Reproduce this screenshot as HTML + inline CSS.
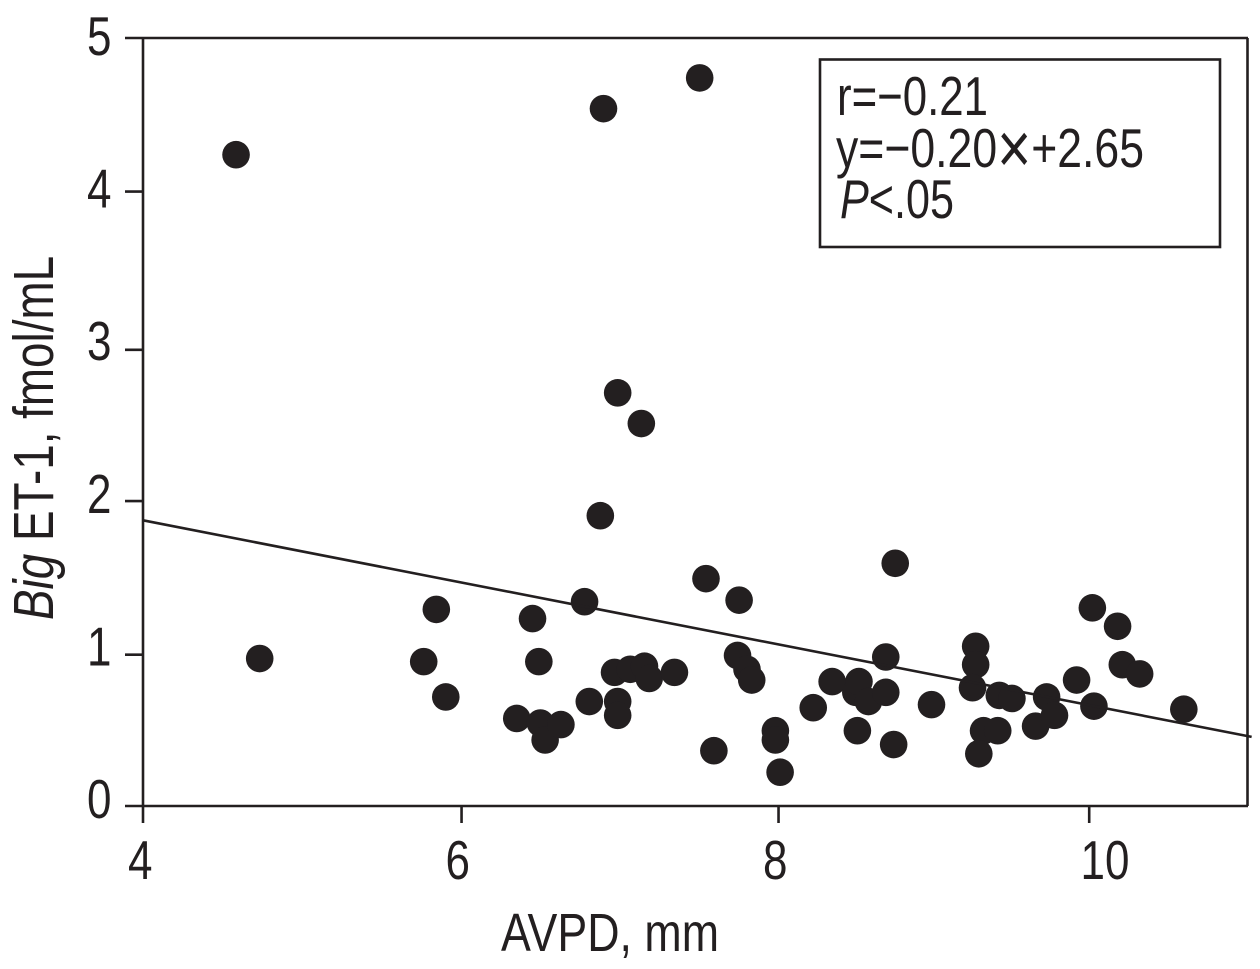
<!DOCTYPE html>
<html lang="en">
<head>
<meta charset="utf-8">
<title>Big ET-1 versus AVPD scatter plot</title>
<style>
  html, body { margin: 0; padding: 0; background: #fff; width: 1260px; height: 969px; overflow: hidden; }
  svg { display: block; }
  text { font-family: "Liberation Sans", Arial, sans-serif; fill: #231f20; font-size: 55px; }
</style>
</head>
<body>
<svg id="chart" xmlns="http://www.w3.org/2000/svg" width="1260" height="969" viewBox="0 0 1260 969">
  <g id="axes"></g>
  <g id="points"></g>
  <line id="trend" stroke="#231f20" stroke-width="2.6"></line>
  <g id="labels"></g>

  <text x="501" y="951" font-size="54" style="font-size:54px" textLength="218" lengthAdjust="spacingAndGlyphs">AVPD, mm</text>
  <text style="font-size:57px" transform="translate(53,620) rotate(-90) scale(0.804,1)" x="0" y="0"><tspan font-style="italic">Big</tspan> ET-1, fmol/mL</text>

  <g>
    <rect x="820" y="59.5" width="400" height="187.5" fill="none" stroke="#231f20" stroke-width="2.6"></rect>
    <text x="837" y="115" textLength="151" lengthAdjust="spacingAndGlyphs">r=−0.21</text>
    <text x="836" y="167" textLength="308" lengthAdjust="spacingAndGlyphs">y=−0.20<tspan style="font-size:72px" dy="6">×</tspan><tspan dy="-6">+2.65</tspan></text>
    <text x="840" y="218" textLength="114" lengthAdjust="spacingAndGlyphs"><tspan font-style="italic">P</tspan>&lt;.05</text>
  </g>
</svg>
<script>
// Data
const pointX = [4.59,4.74,6.92,7.53,7.01,7.16,6.90,7.57,7.78,8.77,5.86,5.78,5.92,6.47,6.51,6.80,6.37,6.52,6.55,6.65,6.83,6.99,7.01,7.01,7.09,7.18,7.21,7.37,7.62,7.77,7.83,7.86,8.01,8.01,8.04,8.25,8.37,8.52,8.54,8.53,8.60,8.71,8.71,8.76,9.00,9.28,9.28,9.26,9.33,9.30,9.42,9.43,9.51,9.66,9.73,9.78,9.92,10.02,10.03,10.18,10.21,10.32,10.60];
const pointY = [4.24,0.96,4.54,4.74,2.69,2.49,1.89,1.48,1.34,1.58,1.28,0.94,0.71,1.22,0.94,1.33,0.57,0.54,0.43,0.53,0.68,0.87,0.68,0.59,0.89,0.91,0.83,0.87,0.36,0.98,0.89,0.82,0.49,0.43,0.22,0.64,0.81,0.74,0.81,0.49,0.68,0.74,0.97,0.40,0.66,1.04,0.92,0.77,0.49,0.34,0.49,0.72,0.70,0.52,0.71,0.59,0.82,1.29,0.65,1.17,0.92,0.86,0.63];
const trendX = [4, 11.03];
const trendY = [1.86, 0.45];
const xTickValues = [4, 6.02, 8.03, 10];
const xTickLabels = ["4", "6", "8", "10"];
const yTickValues = [0, 0.985, 1.985, 2.97, 4, 5];
const yTickLabels = ["0", "1", "2", "3", "4", "5"];

// Axis functions
function xScale(v) { return 143 + (v - 4) * 157.7; }
function yScale(v) { return 806 - v * 153.6; }
function xLabelStart(i) { return 128 + i * 317.5; }
function yLabelBase(i) { return 818 - i * 152.6; }

const NS = 'http://www.w3.org/2000/svg';
const axes = document.getElementById('axes');
const points = document.getElementById('points');
const labels = document.getElementById('labels');
const INK = '#231f20';

function makeLine(x1, y1, x2, y2) {
  const l = document.createElementNS(NS, 'line');
  l.setAttribute('x1', x1);
  l.setAttribute('y1', y1);
  l.setAttribute('x2', x2);
  l.setAttribute('y2', y2);
  l.setAttribute('stroke', INK);
  l.setAttribute('stroke-width', '2.6');
  axes.appendChild(l);
  return l;
}

const frameLeft = makeLine(143, 38, 143, 806);


const frameBottom = makeLine(143, 806, 1248, 806);


const frameTop = makeLine(143, 38, 1248, 38);


const frameRight = makeLine(1247.5, 38, 1247.5, 806);



xTickValues.forEach(function (v, i) {
  const t = makeLine(xScale(v), 806, xScale(v), 823);
  
  
  const lab = document.createElementNS(NS, 'text');
  
  
  lab.setAttribute('transform', 'translate(' + xLabelStart(i) + ',879) scale(0.8,1)');
  lab.textContent = xTickLabels[i];
  labels.appendChild(lab);
});

yTickValues.forEach(function (v, i) {
  const t = makeLine(125, yScale(v), 143, yScale(v));
  
  
  const lab = document.createElementNS(NS, 'text');
  
  
  lab.setAttribute('transform', 'translate(87,' + yLabelBase(i) + ') scale(0.8,1)');
  lab.textContent = yTickLabels[i];
  labels.appendChild(lab);
});

pointX.forEach(function (x, i) {
  const c = document.createElementNS(NS, 'circle');
  
  
  c.setAttribute('cx', xScale(x));
  c.setAttribute('cy', yScale(pointY[i]));
  c.setAttribute('r', '13.8');
  c.setAttribute('fill', INK);
  points.appendChild(c);
});

const trend = document.getElementById('trend');
trend.setAttribute('x1', xScale(trendX[0]));
trend.setAttribute('y1', yScale(trendY[0]));
trend.setAttribute('x2', xScale(trendX[1]));
trend.setAttribute('y2', yScale(trendY[1]));
</script>
</body>
</html>
